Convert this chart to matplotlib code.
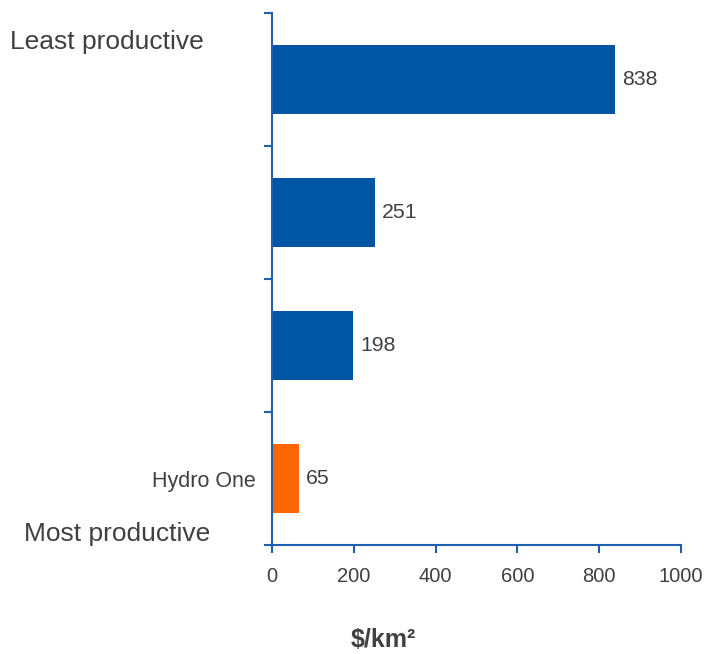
import matplotlib
matplotlib.use("Agg")
import matplotlib.pyplot as plt
import numpy as np

# Cost per km² by utility, ordered from least to most productive
categories = ["", "", "", "Hydro One"]
values = [838, 251, 198, 65]
bar_colors = ["#0055A5", "#0055A5", "#0055A5", "#FF6600"]
x_ticks = [0, 200, 400, 600, 800, 1000]

plt.rcParams["font.family"] = ["Liberation Sans", "DejaVu Sans"]
text_color = "#404040"
axis_color = "#1F5FAF"

fig = plt.figure(figsize=(7.06, 6.54), dpi=100)
ax = fig.add_axes([272 / 706, 1 - 545 / 654, (681 - 272) / 706, (545 - 13) / 654])

y = np.arange(len(values))
bars = ax.barh(y, values, height=0.52, color=bar_colors)
ax.bar_label(bars, labels=[str(v) for v in values], padding=5,
             fontsize=15.3, color=text_color)

ax.set_ylim(len(values) - 0.5, -0.5)
ax.set_xlim(0, 1000)
ax.set_xticks(x_ticks)
ax.set_xticklabels([str(t) for t in x_ticks], fontsize=14.5, color=text_color)

ax.set_yticks(y)
ax.set_yticklabels(categories, fontsize=15.5, color=text_color)
ax.tick_params(axis="y", which="major", length=0, pad=12)
ax.set_yticks(np.arange(-0.5, len(values), 1.0), minor=True)
ax.tick_params(axis="y", which="minor", length=6, width=1.5, color=axis_color,
               direction="out")
ax.tick_params(axis="x", which="major", length=6, width=1.5, color=axis_color,
               direction="out", pad=10)

for side in ("top", "right"):
    ax.spines[side].set_visible(False)
for side in ("left", "bottom"):
    ax.spines[side].set_color(axis_color)
    ax.spines[side].set_linewidth(1.5)

fig.text(10 / 706, 1 - 42 / 654, "Least productive", fontsize=19,
         color=text_color, ha="left", va="center")
fig.text(24 / 706, 1 - 534 / 654, "Most productive", fontsize=19,
         color=text_color, ha="left", va="center")
fig.text(383 / 706, 1 - 640 / 654, "$/km²", fontsize=18, fontweight="bold",
         color=text_color, ha="center", va="center")

fig.savefig("out.png", dpi=100)
